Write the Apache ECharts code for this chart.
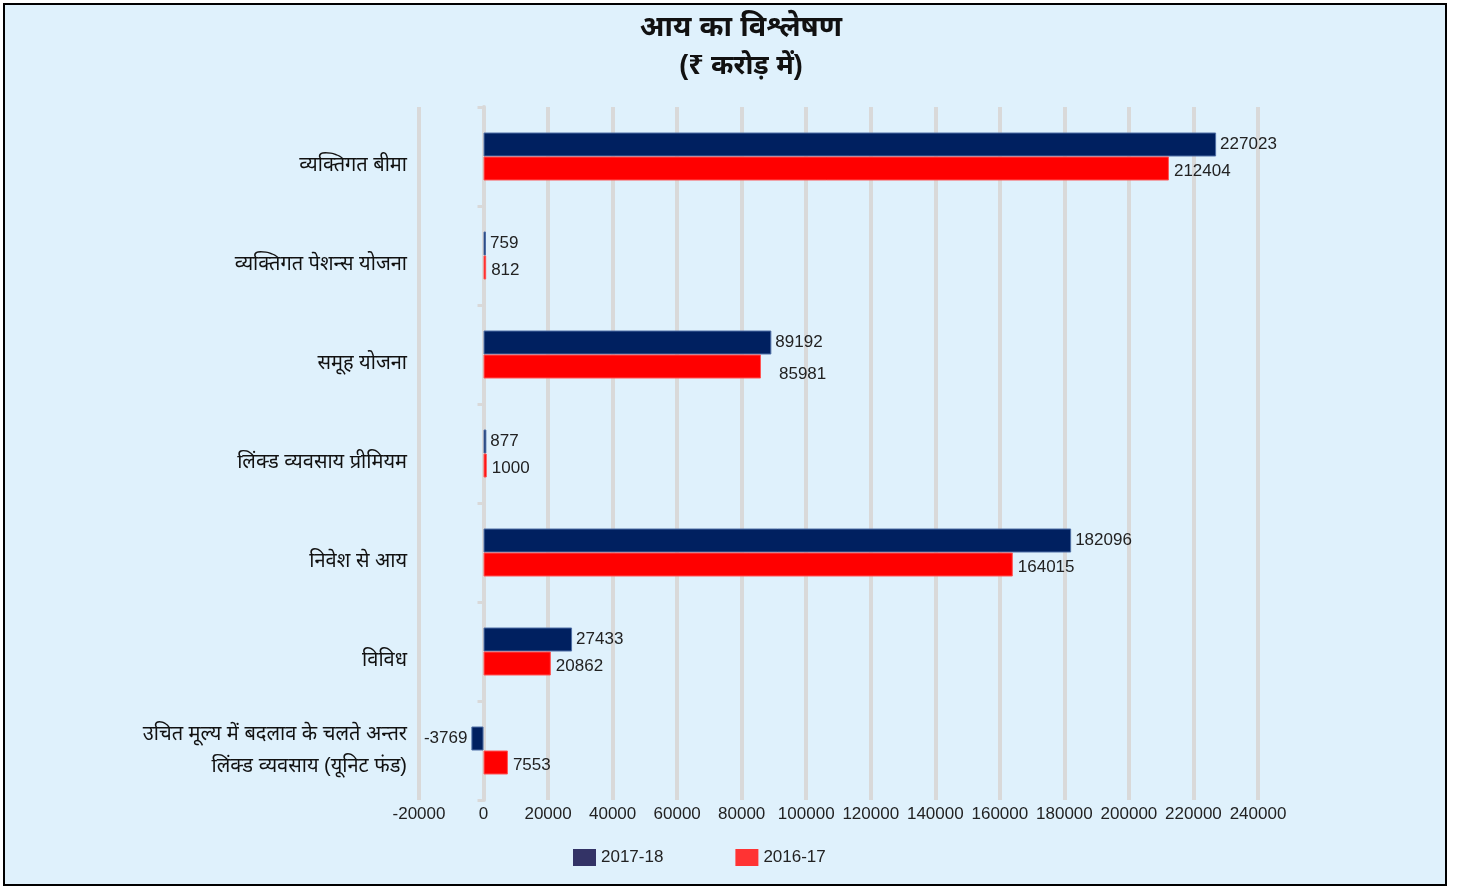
<!DOCTYPE html>
<html>
<head>
<meta charset="utf-8">
<script src="https://cdn.jsdelivr.net/npm/echarts@6/dist/echarts.min.js"></script>
<style>
  html, body { margin: 0; padding: 0; background: #fff; }
  #chart { position: absolute; left: 3px; top: 3px; width: 1440px; height: 879px;
           border: 2px solid #000; background: #dff1fc; }
</style>
</head>
<body>
<div id="chart"></div>
<script>
// श्रेणियाँ और आँकड़े (₹ करोड़)
var categories = [
    'व्यक्तिगत बीमा',
    'व्यक्तिगत पेशन्स योजना',
    'समूह योजना',
    'लिंक्ड व्यवसाय प्रीमियम',
    'निवेश से आय',
    'विविध',
    'उचित मूल्य में बदलाव के चलते अन्तर\nलिंक्ड व्यवसाय (यूनिट फंड)'
];
var seriesNames = ['2017-18', '2016-17'];
var values2017 = [227023, 759, 89192, 877, 182096, 27433, -3769];
var values2016 = [212404, 812, 85981, 1000, 164015, 20862, 7553];

var font = 'Arial, "Liberation Sans", "Noto Sans", sans-serif';

function toData(arr) {
    var out = [];
    for (var i = 0; i < arr.length; i++) {
        if (arr[i] < 0) {
            out.push({ value: arr[i], label: { position: 'left' } });
        } else {
            out.push(arr[i]);
        }
    }
    return out;
}

// 2016-17 में समूह योजना का लेबल मूल चित्र में थोड़ा हटा हुआ है
var data2016 = toData(values2016);
data2016[2] = { value: values2016[2], label: { offset: [13, 8] } };

// एक पंक्ति वाले लेबल थोड़ा नीचे खिसकाने के लिए rich text
function catLabel(v) {
    if (v.indexOf('\n') < 0) {
        return '{s|' + v + '}';
    }
    return v.split('\n').map(function (t) { return '{m|' + t + '}'; }).join('\n');
}

var myChart = echarts.init(document.getElementById('chart'));
var option = {
    backgroundColor: '#dff1fc',
    title: {
        text: 'आय का विश्लेषण',
        subtext: '(₹ करोड़ में)',
        left: 731,
        textAlign: 'center',
        top: 3,
        itemGap: 11,
        textStyle: { fontSize: 29, fontWeight: 'bold', color: '#111', fontFamily: font },
        subtextStyle: { fontSize: 27, fontWeight: 'bold', color: '#111', fontFamily: font }
    },
    legend: {
        left: 563,
        top: 839,
        itemWidth: 23,
        itemHeight: 17,
        itemGap: 72,
        icon: 'rect',
        textStyle: { fontSize: 17, color: '#222', fontFamily: font },
        data: [
            { name: seriesNames[0], itemStyle: { color: '#333366', borderWidth: 0 } },
            { name: seriesNames[1], itemStyle: { color: '#ff3333', borderWidth: 0 } }
        ]
    },
    grid: { left: 414, right: 187, top: 102, bottom: 84 },
    xAxis: {
        type: 'value',
        min: -20000,
        max: 240000,
        interval: 20000,
        axisLine: { show: false },
        axisTick: { show: false },
        axisLabel: { fontSize: 17, color: '#222', fontFamily: font, margin: 6,
                     formatter: function (v) { return String(v); } },
        splitLine: { show: true, lineStyle: { color: '#d9d9d9', width: 4 } }
    },
    yAxis: {
        type: 'category',
        inverse: true,
        data: categories,
        axisLine: { show: true, onZero: true, lineStyle: { color: '#d9d9d9', width: 4 } },
        axisTick: { show: true, length: 6, lineStyle: { color: '#d9d9d9', width: 3 } },
        axisLabel: {
            color: '#111', fontFamily: font, margin: 12,
            formatter: catLabel,
            rich: {
                s: { fontSize: 20, fontFamily: font, color: '#111', padding: [17, 0, 0, 0] },
                m: { fontSize: 20, fontFamily: font, color: '#111', lineHeight: 32 }
            }
        }
    },
    series: [
        {
            name: seriesNames[0],
            type: 'bar',
            data: toData(values2017),
            barWidth: 24,
            barGap: '0%',
            itemStyle: { color: '#002060', borderColor: '#4f6fa6', borderWidth: 1 },
            label: { show: true, position: 'right', distance: 4, fontSize: 17, color: '#222', fontFamily: font }
        },
        {
            name: seriesNames[1],
            type: 'bar',
            data: data2016,
            barWidth: 24,
            itemStyle: { color: '#ff0000', borderColor: '#ff5555', borderWidth: 1 },
            label: { show: true, position: 'right', distance: 5, offset: [0, 3],
                     fontSize: 17, color: '#222', fontFamily: font }
        }
    ]
};
myChart.setOption(option);
</script>
</body>
</html>
